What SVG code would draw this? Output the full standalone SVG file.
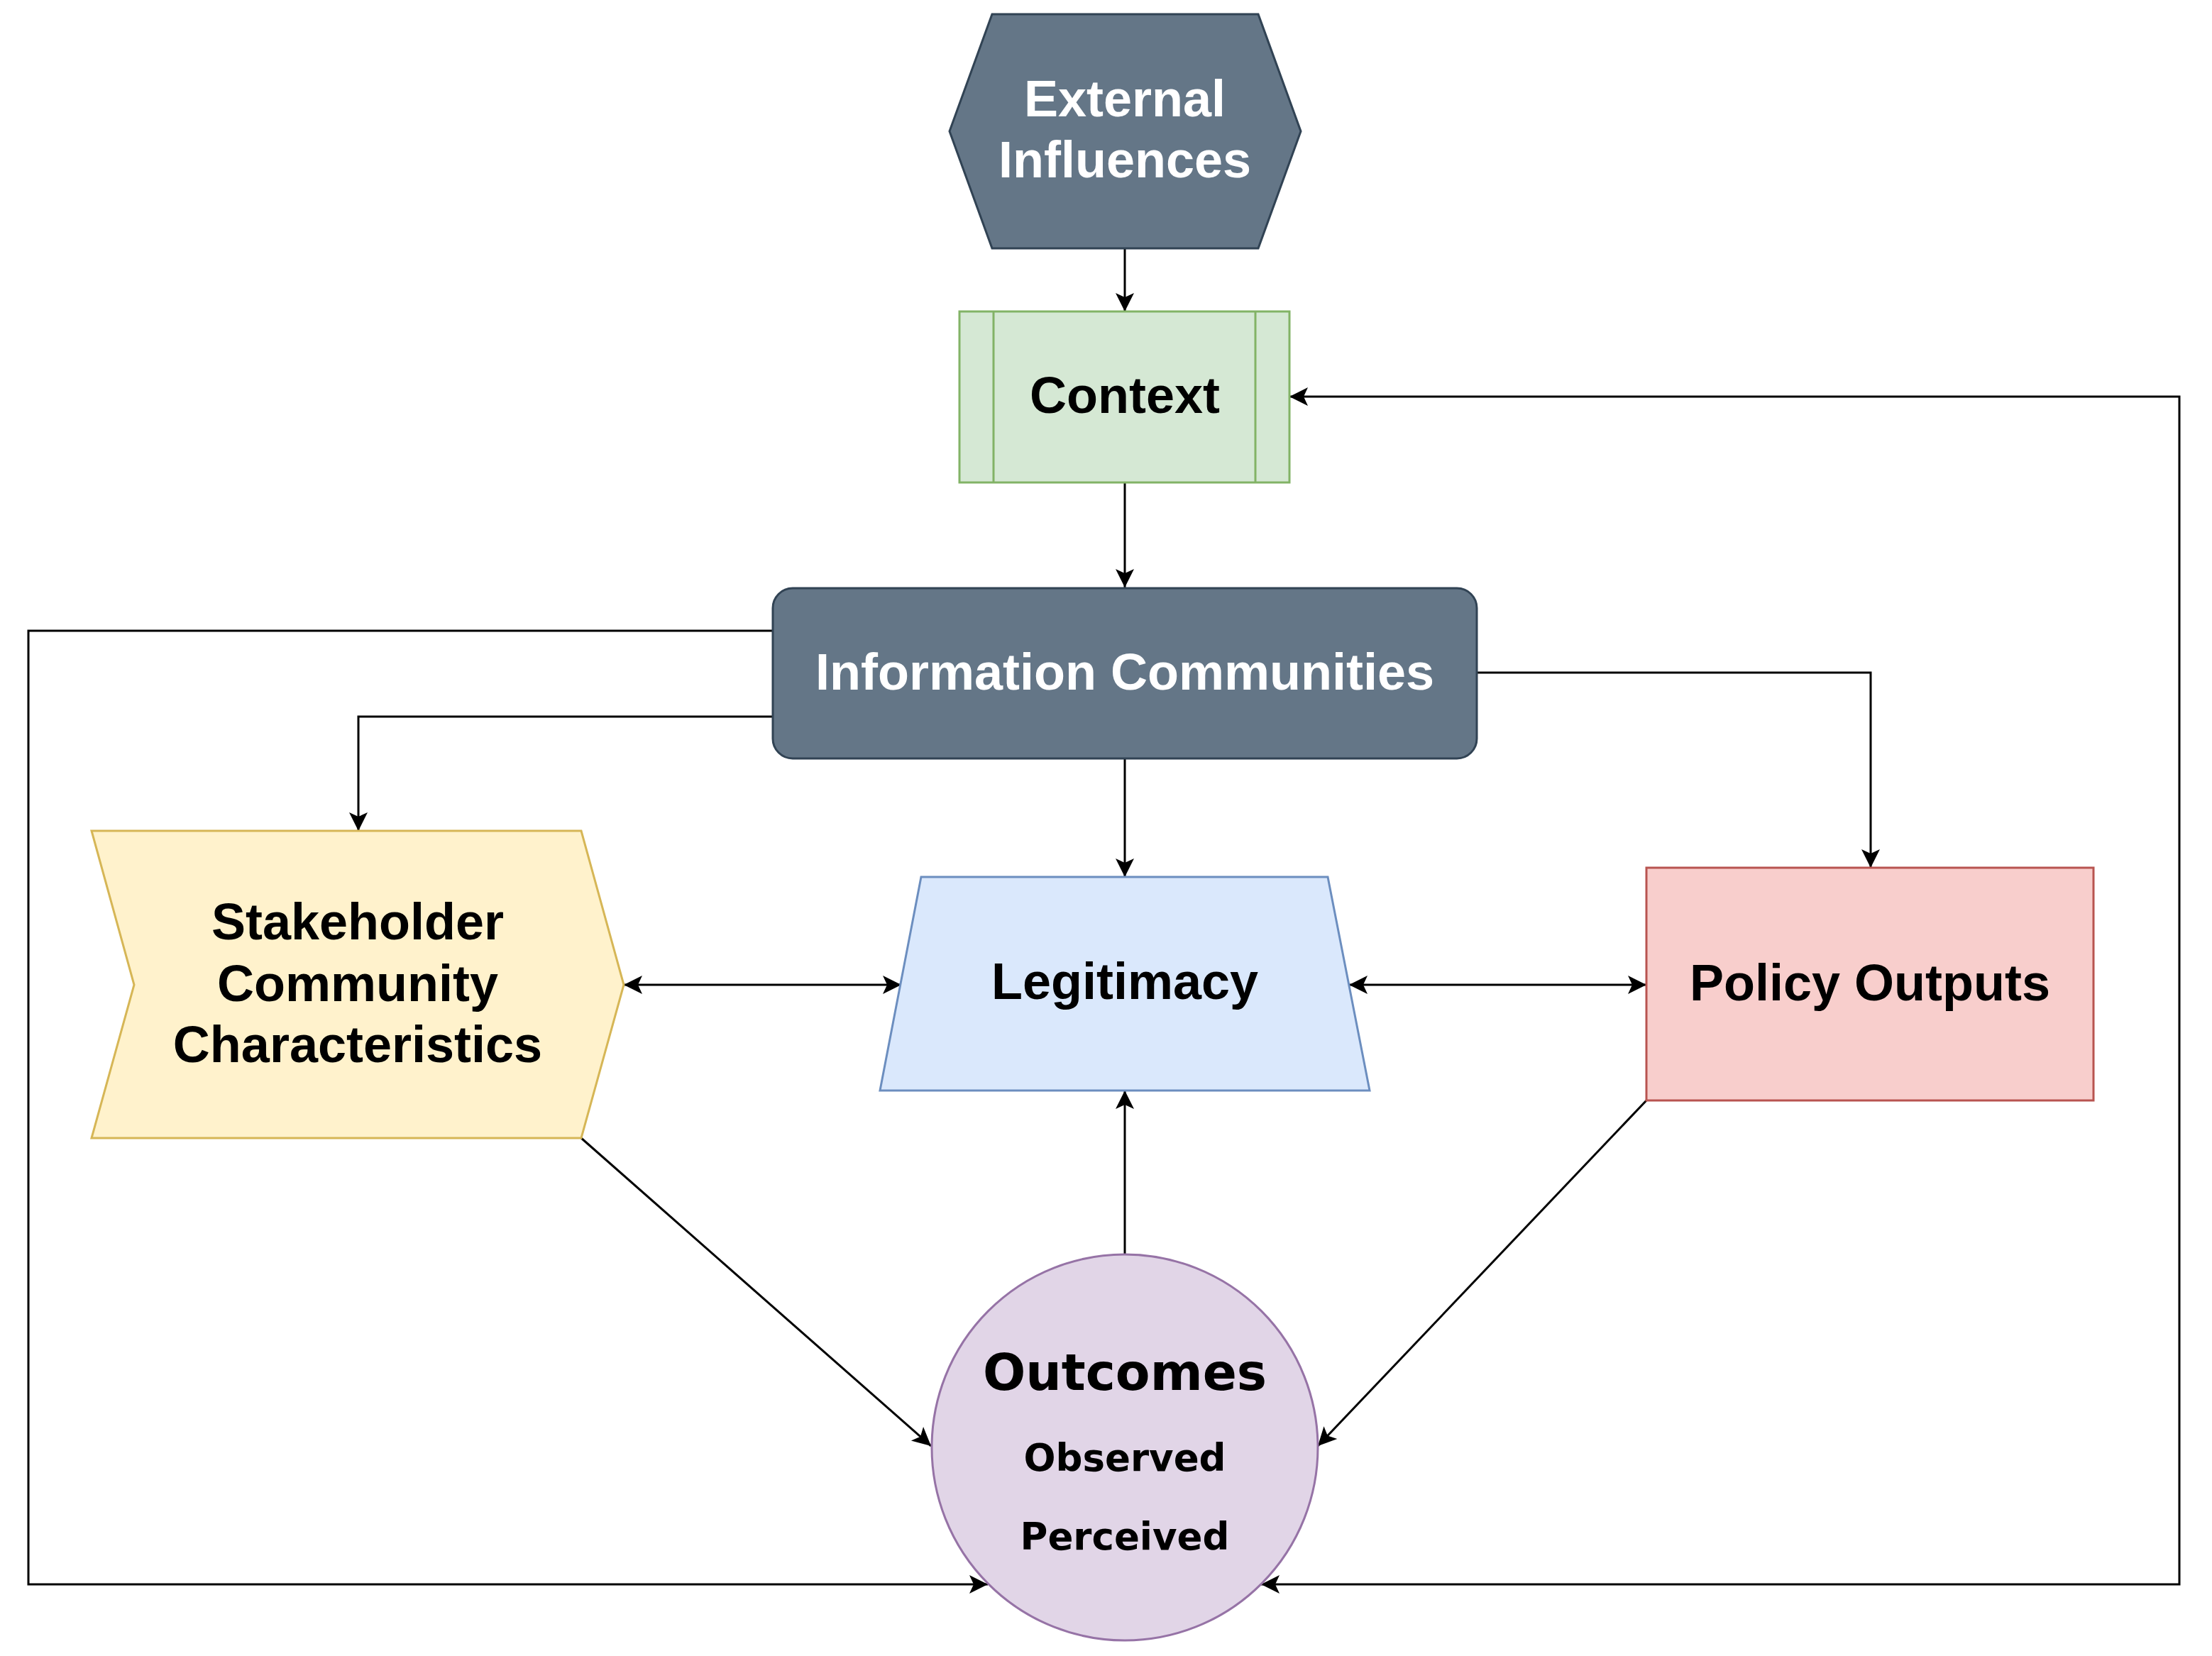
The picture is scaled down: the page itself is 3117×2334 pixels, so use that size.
<svg xmlns="http://www.w3.org/2000/svg" width="3117" height="2334" viewBox="0 0 3117 2334">
  <style>
    .lbl { font-family: "Liberation Sans", Arial, Helvetica, sans-serif; font-weight: bold; font-size: 72px; text-anchor: middle; }
    .light { fill: #ffffff; }
    .dark { fill: #000000; }
    .verd { font-family: "DejaVu Sans", Verdana, sans-serif; font-weight: bold; text-anchor: middle; fill: #000000; }
    .edge { fill: none; stroke: #000000; stroke-width: 3; }
    .slate { fill: #647687; stroke: #314354; stroke-width: 3; }
  </style>
  <defs>
    <marker id="arrow" viewBox="-28 -15 30 30" refX="0" refY="0" markerWidth="30" markerHeight="30" orient="auto-start-reverse" markerUnits="userSpaceOnUse">
      <path d="M0,0 L-26,-13 L-20,0 L-26,13 Z" fill="#000000"/>
    </marker>
  </defs>
  <rect width="3117" height="2334" fill="#ffffff"/>

  <!-- connectors -->
  <g id="connectors">
    <path class="edge" d="M1585,350 L1585,439" marker-end="url(#arrow)"/>
    <path class="edge" d="M1585,680 L1585,828" marker-end="url(#arrow)"/>
    <path class="edge" d="M1089,889 L40,889 L40,2233 L1392,2233" marker-end="url(#arrow)"/>
    <path class="edge" d="M1089,1010 L505,1010 L505,1171" marker-end="url(#arrow)"/>
    <path class="edge" d="M1585,1069 L1585,1236" marker-end="url(#arrow)"/>
    <path class="edge" d="M2081,948 L2636,948 L2636,1223" marker-end="url(#arrow)"/>
    <path class="edge" d="M879,1388 L1270,1388" marker-start="url(#arrow)" marker-end="url(#arrow)"/>
    <path class="edge" d="M1901,1388 L2320,1388" marker-start="url(#arrow)" marker-end="url(#arrow)"/>
    <path class="edge" d="M1585,1768 L1585,1537" marker-end="url(#arrow)"/>
    <path class="edge" d="M819,1604 L1312,2038" marker-end="url(#arrow)"/>
    <path class="edge" d="M2320,1551 L1857,2038" marker-end="url(#arrow)"/>
    <path class="edge" d="M1777,2233 L3071,2233 L3071,559 L1817,559" marker-start="url(#arrow)" marker-end="url(#arrow)"/>
  </g>

  <!-- External Influences -->
  <g id="external-influences">
    <polygon class="slate" points="1338,185 1398,20 1773,20 1833,185 1773,350 1398,350"/>
    <text class="lbl light" x="1585" y="164">External</text>
    <text class="lbl light" x="1585" y="250">Influences</text>
  </g>

  <!-- Context -->
  <g id="context">
    <rect x="1352" y="439" width="465" height="241" fill="#d5e8d4" stroke="#82b366" stroke-width="3"/>
    <line x1="1400" y1="439" x2="1400" y2="680" stroke="#82b366" stroke-width="3"/>
    <line x1="1769" y1="439" x2="1769" y2="680" stroke="#82b366" stroke-width="3"/>
    <text class="lbl dark" x="1585" y="582">Context</text>
  </g>

  <!-- Information Communities -->
  <g id="information-communities">
    <rect class="slate" x="1089" y="829" width="992" height="240" rx="28" ry="28"/>
    <text class="lbl light" x="1585" y="972">Information Communities</text>
  </g>

  <!-- Stakeholder Community Characteristics -->
  <g id="stakeholder-community">
    <polygon points="129,1171 819,1171 879,1388 819,1604 129,1604 189,1388" fill="#fff2cc" stroke="#d6b656" stroke-width="3"/>
    <text class="lbl dark" x="504" y="1324">Stakeholder</text>
    <text class="lbl dark" x="504" y="1411">Community</text>
    <text class="lbl dark" x="504" y="1497">Characteristics</text>
  </g>

  <!-- Legitimacy -->
  <g id="legitimacy">
    <polygon points="1298,1236 1871,1236 1930,1537 1240,1537" fill="#dae8fc" stroke="#6c8ebf" stroke-width="3"/>
    <text class="lbl dark" x="1585" y="1408">Legitimacy</text>
  </g>

  <!-- Policy Outputs -->
  <g id="policy-outputs">
    <rect x="2320" y="1223" width="630" height="328" fill="#f8cecc" stroke="#b85450" stroke-width="3"/>
    <text class="lbl dark" x="2635" y="1410">Policy Outputs</text>
  </g>

  <!-- Outcomes -->
  <g id="outcomes">
    <circle cx="1585" cy="2040" r="272" fill="#e1d5e7" stroke="#9673a6" stroke-width="3"/>
    <text class="verd" x="1585" y="1959" font-size="71">Outcomes</text>
    <text class="verd" x="1585" y="2073" font-size="53">Observed</text>
    <text class="verd" x="1585" y="2184" font-size="53">Perceived</text>
  </g>
</svg>
